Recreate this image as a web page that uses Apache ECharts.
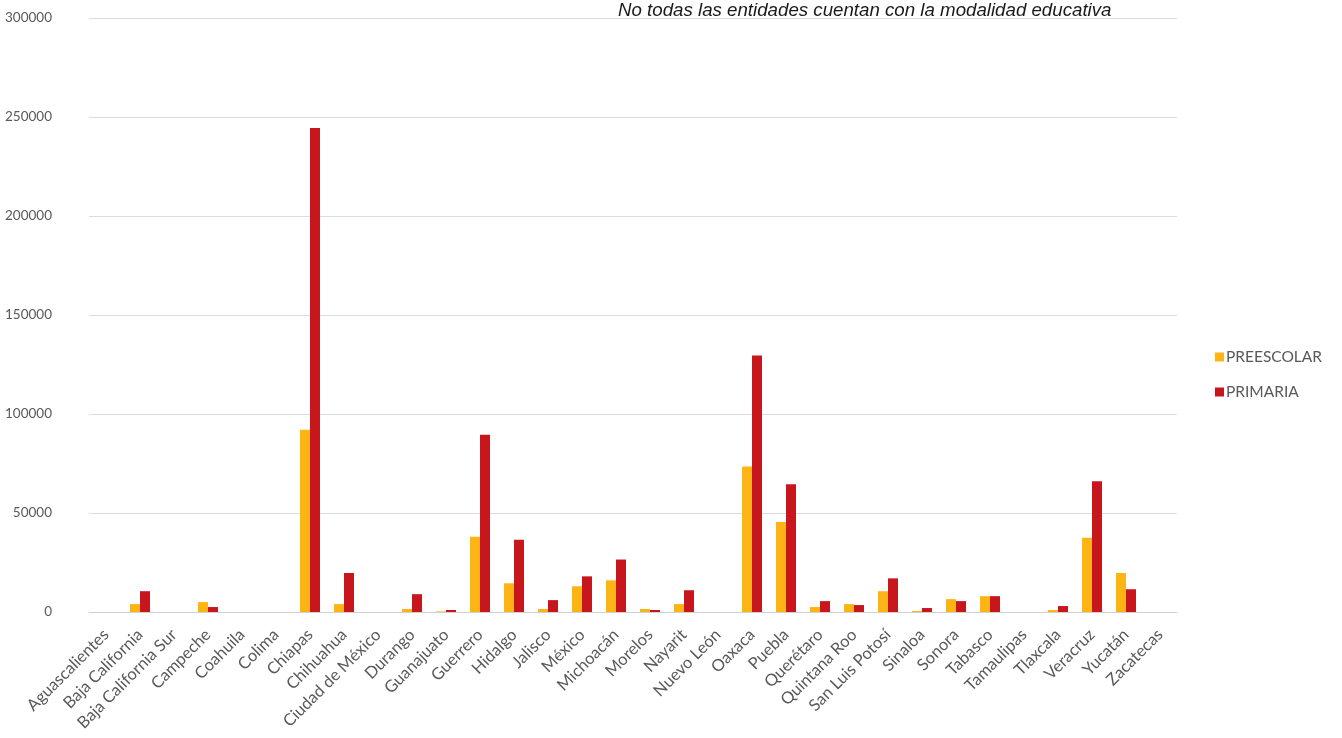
<!DOCTYPE html>
<html>
<head>
<meta charset="utf-8">
<script src="https://cdn.jsdelivr.net/npm/echarts@6/dist/echarts.min.js"></script>
<style>
  html, body { margin: 0; padding: 0; background: #fff; }
  #chart { width: 1342px; height: 738px; }
</style>
</head>
<body>
<div id="chart"></div>
<script>
const estados = [
  'Aguascalientes', 'Baja California', 'Baja California Sur', 'Campeche', 'Coahuila',
  'Colima', 'Chiapas', 'Chihuahua', 'Ciudad de México', 'Durango', 'Guanajuato',
  'Guerrero', 'Hidalgo', 'Jalisco', 'México', 'Michoacán', 'Morelos', 'Nayarit',
  'Nuevo León', 'Oaxaca', 'Puebla', 'Querétaro', 'Quintana Roo', 'San Luis Potosí',
  'Sinaloa', 'Sonora', 'Tabasco', 'Tamaulipas', 'Tlaxcala', 'Veracruz', 'Yucatán', 'Zacatecas'
]

const preescolar = [
  0, 4000, 0, 5000, 0,
  0, 92000, 4000, 0, 1500, 300,
  38000, 14500, 1500, 13000, 16000, 1500, 4000,
  0, 73500, 45500, 2500, 4000, 10500,
  500, 6500, 8000, 0, 1000, 37500, 19700, 0
]

const primaria = [
  0, 10500, 0, 2500, 0,
  0, 244500, 19700, 0, 9000, 1000,
  89500, 36500, 6000, 18000, 26500, 1000, 11000,
  0, 129500, 64500, 5500, 3500, 17000,
  2000, 5500, 8000, 0, 3000, 66000, 11500, 0
]

const chart = echarts.init(document.getElementById('chart'))

const textFont = 'Lato, "Noto Sans", sans-serif'

const option = {
  backgroundColor: '#ffffff',
  animation: false,
  grid: { left: 89, right: 165, top: 18, bottom: 126 },
  legend: {
    orient: 'vertical',
    left: 1210,
    top: 344,
    itemWidth: 9,
    itemHeight: 9,
    itemGap: 19,
    icon: 'rect',
    textStyle: { color: '#595959', fontSize: 15.5, fontFamily: textFont, padding: [0, 0, 0, -3] },
    data: ['PREESCOLAR', 'PRIMARIA']
  },
  graphic: [
    {
      type: 'text',
      left: 618,
      top: 1,
      style: {
        text: 'No todas las entidades cuentan con la modalidad educativa',
        font: 'italic 18.7px "Liberation Sans", Arial, sans-serif',
        fill: '#1a1a1a'
      }
    }
  ],
  xAxis: {
    type: 'category',
    data: estados,
    axisTick: { show: false },
    axisLine: { lineStyle: { color: '#d0d0d0' } },
    axisLabel: {
      interval: 0,
      rotate: 45,
      color: '#595959',
      fontSize: 16.5,
      fontFamily: textFont,
      margin: 20
    }
  },
  yAxis: {
    type: 'value',
    min: 0,
    max: 300000,
    interval: 50000,
    axisLabel: {
      color: '#595959',
      fontSize: 13.5,
      fontFamily: textFont,
      margin: 37,
      formatter: (v) => String(v)
    },
    splitLine: { lineStyle: { color: '#dcdcdc' } }
  },
  series: [
    {
      name: 'PREESCOLAR',
      type: 'bar',
      data: preescolar,
      barWidth: 10,
      barGap: '0%',
      itemStyle: { color: '#FDB515' }
    },
    {
      name: 'PRIMARIA',
      type: 'bar',
      data: primaria,
      barWidth: 10,
      itemStyle: { color: '#C8161D' }
    }
  ]
}

chart.setOption(option)
</script>
</body>
</html>
